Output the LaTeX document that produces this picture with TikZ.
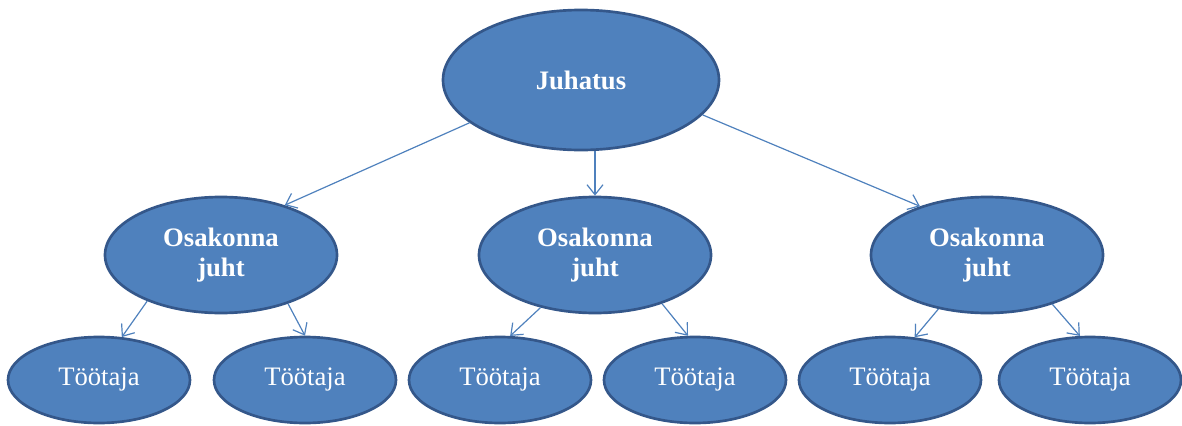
\documentclass[tikz,border=0pt]{standalone}
\usepackage{fontspec}
\setmainfont{Liberation Serif}
\usetikzlibrary{shapes.geometric,arrows.meta}
\definecolor{fillblue}{HTML}{4F81BD}
\definecolor{edgeblue}{HTML}{34578A}
\definecolor{arrowblue}{HTML}{4F81BD}
\tikzset{
  oval/.style={ellipse, draw=edgeblue, line width=2pt, fill=fillblue, inner sep=0pt, text=white, align=center},
  top/.style={oval, minimum width=207pt, minimum height=105pt, font=\fontsize{20}{22}\selectfont\bfseries},
  mid/.style={oval, minimum width=174pt, minimum height=87pt, font=\fontsize{20}{22}\selectfont\bfseries},
  low/.style={oval, minimum width=136.5pt, minimum height=64.5pt, font=\fontsize{20}{22}\selectfont},
  conn/.style={draw=arrowblue, line width=0.9pt, -{Straight Barb[length=7.5pt,width=12pt]}}
}
\begin{document}
\begin{tikzpicture}[x=0.75pt,y=-0.75pt]
\useasboundingbox (0,0) rectangle (1182,425);
\node[top] (J) at (581,80) {Juhatus};
\node[mid] (O1) at (221,255) {Osakonna\\juht};
\node[mid] (O2) at (595,255) {Osakonna\\juht};
\node[mid] (O3) at (987,255) {Osakonna\\juht};
\node[low] (T1) at (99,380) {Töötaja};
\node[low] (T2) at (305,380) {Töötaja};
\node[low] (T3) at (500,380) {Töötaja};
\node[low] (T4) at (695,380) {Töötaja};
\node[low] (T5) at (890,380) {Töötaja};
\node[low] (T6) at (1090,380) {Töötaja};
\draw[conn] (J.201) -- (O1.38);
\draw[conn] (O2.north |- J.south) -- (O2.north);
\draw[conn] (J.-16) -- (O3.144);
\draw[conn] (O1.212) -- (T1.62);
\draw[conn] (O1.-36) -- (T2.north);
\draw[conn] (O2.224) -- (T3.77);
\draw[conn] (O2.-36) -- (T4.99);
\draw[conn] (O3.228) -- (T5.60);
\draw[conn] (O3.-37) -- (T6.103);
\end{tikzpicture}
\end{document}
